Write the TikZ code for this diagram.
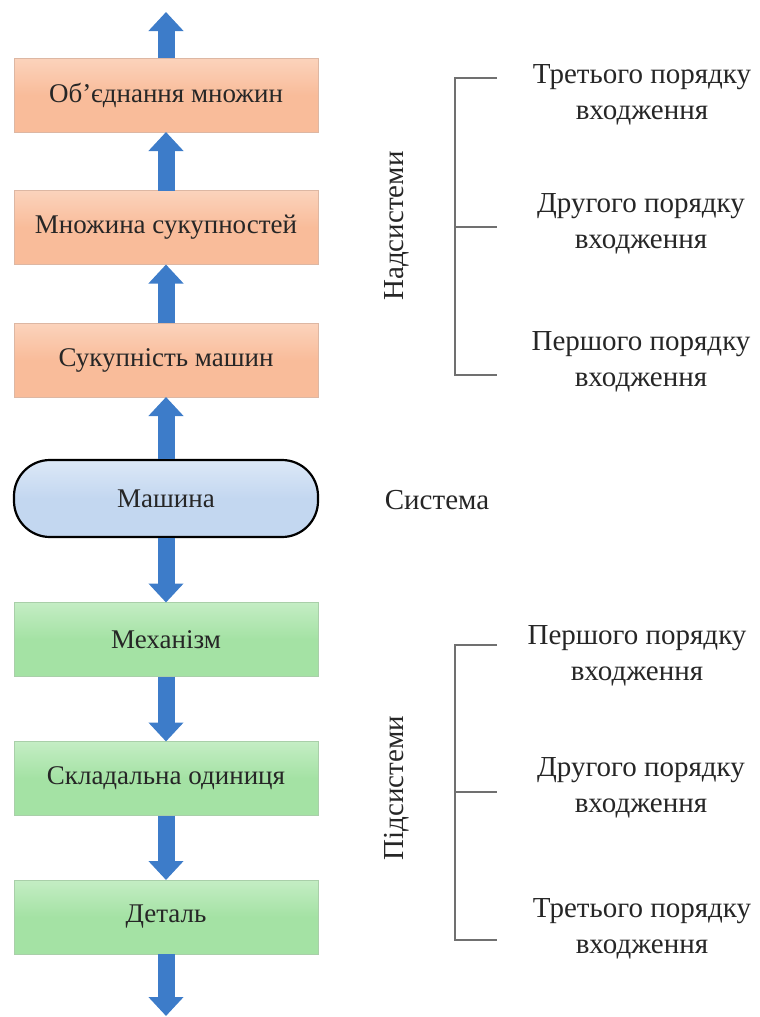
\documentclass[tikz,border=0pt]{standalone}
\usepackage{fontspec}
\setmainfont{Liberation Serif}
\usetikzlibrary{arrows.meta}

\definecolor{orfill}{HTML}{F9BC9A}
\definecolor{ortop}{HTML}{FBD3BC}
\definecolor{orline}{HTML}{DDB7A3}
\definecolor{grfill}{HTML}{A4E2A4}
\definecolor{grtop}{HTML}{C4EDC4}
\definecolor{grline}{HTML}{A9CFA9}
\definecolor{blfill}{HTML}{C3D7F0}
\definecolor{bltop}{HTML}{DCE8F7}
\definecolor{flow}{HTML}{3D7CC9}
\definecolor{brk}{HTML}{707070}
\definecolor{ink}{HTML}{262626}

\tikzset{
  boxtext/.style={font=\fontsize{27}{32}\selectfont, text=ink},
  levelbox/.style={boxtext, minimum width=304pt, minimum height=74pt,
    inner sep=0pt, outer sep=0pt, draw, line width=1pt},
  superbox/.style={levelbox, draw=orline, top color=ortop, bottom color=orfill, middle color=orfill},
  subbox/.style={levelbox, draw=grline, top color=grtop, bottom color=grfill, middle color=grfill},
  sysbox/.style={boxtext, minimum width=304pt, minimum height=77pt, inner sep=0pt,
    rounded corners=36pt, draw=black, line width=2.2pt,
    top color=bltop, bottom color=blfill, middle color=blfill},
  flowarrow/.style={draw=flow, line width=17pt,
    -{Triangle[width=34pt,length=19pt]}},
  bracket/.style={draw=brk, line width=1.4pt},
  orderlabel/.style={align=center, font=\fontsize{29}{36}\selectfont, text=ink},
  sidelabel/.style={font=\fontsize{29}{32}\selectfont, text=ink},
}

\begin{document}
\begin{tikzpicture}[x=1pt, y=-1pt]
\useasboundingbox (0,0) rectangle (760,1017);

% hierarchy column
\node[superbox] (union) at (166,95)    {Об'єднання множин};
\node[superbox] (sets)  at (166,227.5) {Множина сукупностей};
\node[superbox] (group) at (166,360)   {Сукупність машин};
\node[sysbox]   (mach)  at (166,498.5) {Машина};
\node[subbox]   (mech)  at (166,639.5) {Механізм};
\node[subbox]   (unit)  at (166,778.5) {Складальна одиниця};
\node[subbox]   (part)  at (166,917)   {Деталь};

\coordinate (topend) at (166,12);
\coordinate (botend) at (166,1016);

% arrows up from the system, arrows down to its parts
\draw[flowarrow] (union.north) -- (topend);
\draw[flowarrow] (sets.north)  -- (union.south);
\draw[flowarrow] (group.north) -- (sets.south);
\draw[flowarrow] (mach.north)  -- (group.south);
\draw[flowarrow] (mach.south)  -- (mech.north);
\draw[flowarrow] (mech.south)  -- (unit.north);
\draw[flowarrow] (unit.south)  -- (part.north);
\draw[flowarrow] (part.south)  -- (botend);

\node[sidelabel] (system) at (437,500) {Система};

% supersystems
\node[sidelabel, rotate=90] (sup) at (397,226) {Надсистеми};
\coordinate (s1) at (455,78);
\coordinate (s2) at (455,227);
\coordinate (s3) at (455,375);
\draw[bracket] (497,78) -- (s1) -- (s3) -- (497,375);
\draw[bracket] (s2) -- (497,227);
\node[orderlabel] (sup3) at (642,95)    {Третього порядку\\входження};
\node[orderlabel] (sup2) at (641,223.5) {Другого порядку\\входження};
\node[orderlabel] (sup1) at (641,361.5) {Першого порядку\\входження};

% subsystems
\node[sidelabel, rotate=90] (sub) at (397,788) {Підсистеми};
\coordinate (p1) at (455,645);
\coordinate (p2) at (455,792);
\coordinate (p3) at (455,940);
\draw[bracket] (497,645) -- (p1) -- (p3) -- (497,940);
\draw[bracket] (p2) -- (497,792);
\node[orderlabel] (sub1) at (637,656)   {Першого порядку\\входження};
\node[orderlabel] (sub2) at (641,787.5) {Другого порядку\\входження};
\node[orderlabel] (sub3) at (642,929)   {Третього порядку\\входження};
\end{tikzpicture}
\end{document}
